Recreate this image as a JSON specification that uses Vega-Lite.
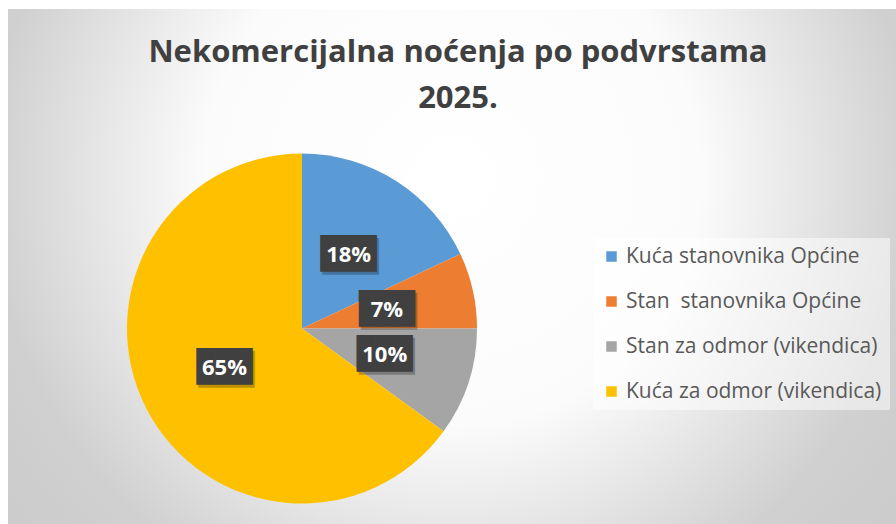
{
  "$schema": "https://vega.github.io/schema/vega-lite/v6.json",
  "width": 896,
  "height": 524,
  "autosize": {"type": "fit", "contains": "padding"},
  "padding": {"left": 8, "top": 9, "right": 0, "bottom": 0},
  "background": "#ffffff",
  "data": {
    "values": [
      {"vrsta": "Kuća stanovnika Općine", "udio": 0.18},
      {"vrsta": "Stan \u00a0stanovnika Općine", "udio": 0.07},
      {"vrsta": "Stan za odmor (vikendica)", "udio": 0.10},
      {"vrsta": "Kuća za odmor (vikendica)", "udio": 0.65}
    ]
  },
  "title": {
    "text": ["Nekomercijalna noćenja po podvrstama", "2025."],
    "font": "Open Sans",
    "fontSize": 31,
    "fontWeight": "bold",
    "color": "#404040",
    "anchor": "middle",
    "lineHeight": 46,
    "baseline": "top",
    "offset": -106,
    "dx": 6
  },
  "layer": [
    {
      "transform": [{"aggregate": [{"op": "count", "as": "n"}]}],
      "mark": {
        "type": "rect",
        "fill": {
          "gradient": "radial",
          "x1": 0.5, "y1": 0.4, "r1": 0,
          "x2": 0.5, "y2": 0.4, "r2": 0.8,
          "stops": [
            {"offset": 0, "color": "#ffffff"},
            {"offset": 0.35, "color": "#fbfbfb"},
            {"offset": 0.65, "color": "#d0d0d0"},
            {"offset": 1, "color": "#c4c4c4"}
          ]
        }
      },
      "encoding": {}
    },
    {
      "transform": [{"window": [{"op": "row_number", "as": "i"}]}],
      "encoding": {
        "theta": {"field": "udio", "type": "quantitative", "stack": true},
        "order": {"field": "i", "type": "quantitative"},
        "detail": {"field": "vrsta", "type": "nominal"}
      },
      "layer": [
        {
          "mark": {"type": "arc", "outerRadius": 175, "xOffset": -150, "yOffset": 62},
          "encoding": {
            "color": {
              "field": "vrsta",
              "type": "nominal",
              "scale": {
                "domain": ["Kuća stanovnika Općine", "Stan \u00a0stanovnika Općine", "Stan za odmor (vikendica)", "Kuća za odmor (vikendica)"],
                "range": ["#5b9bd5", "#ed7d31", "#a5a5a5", "#ffc000"]
              },
              "legend": {
                "title": null,
                "orient": "none",
                "legendX": 585,
                "legendY": 229,
                "fillColor": "rgba(255,255,255,0.5)",
                "padding": 8,
                "rowPadding": 23,
                "labelFont": "Open Sans",
                "labelFontSize": 21,
                "labelColor": "#595959",
                "labelLimit": 400,
                "labelOffset": 4,
                "symbolType": "square",
                "symbolSize": 110,
                "symbolStrokeWidth": 0
              }
            }
          }
        },
        {
          "mark": {"type": "text", "radius": 87, "xOffset": -150, "yOffset": 62, "dx": 2, "dy": 3, "text": "███", "font": "DejaVu Sans Mono", "fontSize": 31, "baseline": "middle", "color": "#000000", "opacity": 0.25}
        },
        {
          "mark": {"type": "text", "radius": 87, "xOffset": -150, "yOffset": 62, "text": "███", "font": "DejaVu Sans Mono", "fontSize": 31, "baseline": "middle", "color": "#404040"}
        },
        {
          "mark": {"type": "text", "radius": 87, "xOffset": -150, "yOffset": 62, "font": "Open Sans", "fontSize": 22, "fontWeight": "bold", "baseline": "middle", "color": "#ffffff"},
          "encoding": {
            "text": {"field": "udio", "type": "quantitative", "format": ".0%"}
          }
        }
      ]
    }
  ],
  "config": {"view": {"stroke": null}}
}
